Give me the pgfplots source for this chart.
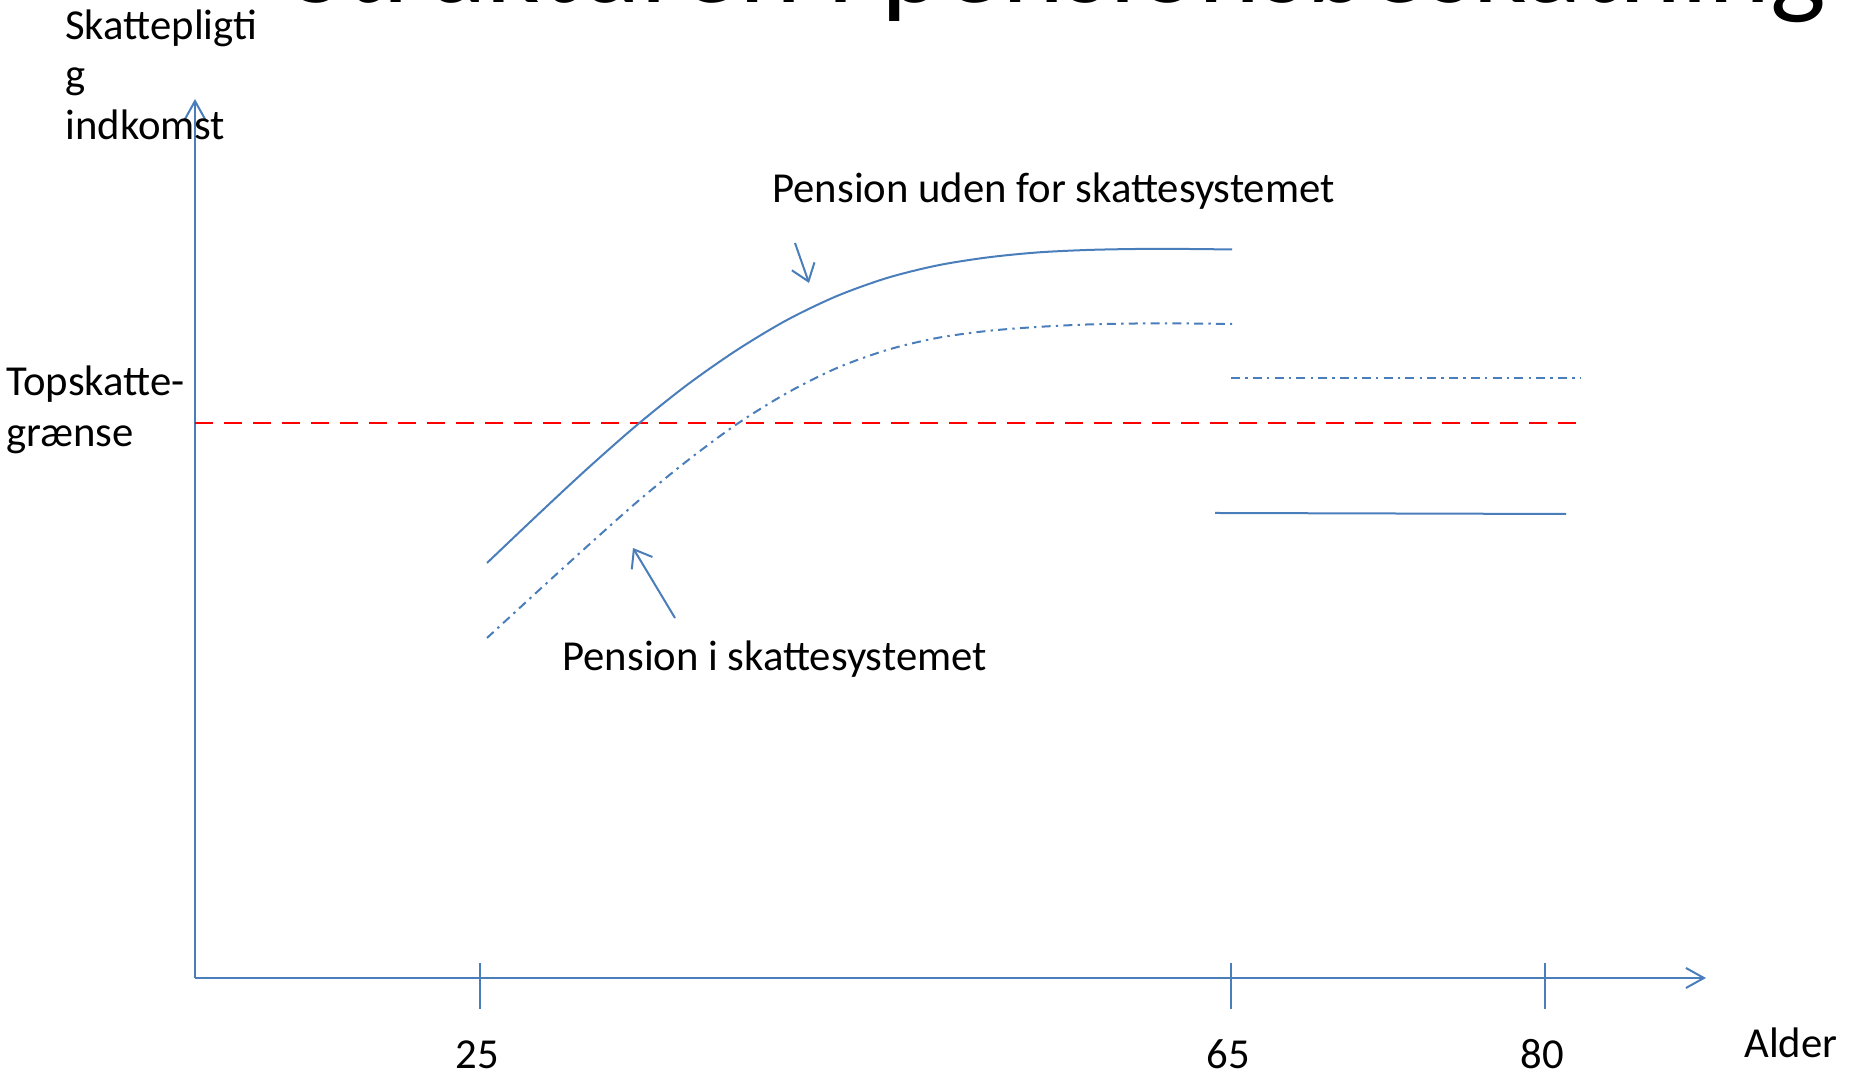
\documentclass[border=0pt]{standalone}
\usepackage{pgfplots}
\pgfplotsset{compat=1.18}
\usepackage{fontspec}
\setmainfont{Carlito}
\usetikzlibrary{arrows.meta}

\definecolor{lineblue}{HTML}{4A7EBB}
\newcommand{\lbl}{\fontsize{21.35pt}{25pt}\selectfont}

\begin{document}
\begin{tikzpicture}
\begin{axis}[
    x=0.5pt, y=0.5pt,
    xmin=195, xmax=1706,
    ymin=101, ymax=980,
    axis lines=left,
    axis line style={lineblue, line width=1pt, -{Straight Barb[length=9pt,width=10pt]}},
    clip=false,
    xtick={480,1231,1545},
    xticklabels={25,65,80},
    ytick=\empty,
    major tick length=23pt,
    tick align=center,
    xtick style={lineblue, line width=0.7pt, yshift=-4pt},
    xticklabel style={font=\lbl, anchor=base, inner sep=0pt, yshift=-34pt, xshift=-1.5pt},
    /pgf/number format/assume math mode=true,
]
% topskattegraense
\addplot[red, line width=1pt, dash pattern=on 9pt off 5.5pt] coordinates {(195,656) (1580,656)};

% pension uden for skattesystemet
\addplot[lineblue, line width=1pt, smooth] coordinates {
  (487,516) (537,563.5) (587,610) (637,654) (687,694) (737,729)
  (787,759) (837,783) (887,801) (937,813.5) (987,821.5) (1037,826.5)
  (1087,829) (1137,830) (1187,830) (1232,829.5)
};
\addplot[lineblue, line width=1pt] coordinates {(1215,566) (1566,565)};

% pension i skattesystemet
\addplot[lineblue, line width=1pt, smooth, dash pattern=on 4.5pt off 2.6pt on 1.2pt off 2.6pt] coordinates {
  (487,441) (537,487) (587,532.5) (637,577) (687,618) (737,655)
  (787,686) (837,711) (887,729) (937,741) (987,748) (1037,752)
  (1087,754.5) (1137,755.5) (1187,755.5) (1232,755)
};
\addplot[lineblue, line width=1pt, dash pattern=on 4.5pt off 2.6pt on 1.2pt off 2.6pt] coordinates {(1231,701) (1580,701)};

% pile
\addplot[lineblue, line width=1pt, -{Straight Barb[length=8pt,width=12pt]}] coordinates {(795,836) (809,796)};
\addplot[lineblue, line width=1pt, -{Straight Barb[length=8pt,width=12pt]}] coordinates {(675,461) (633,531)};

% tekster
\node[anchor=base west, inner sep=0pt, font=\fontsize{58.9pt}{60pt}\selectfont] at (axis cs:290,1076) {Strukturen i pensionsbeskatning};
\node[anchor=base west, inner sep=0pt, font=\lbl] at (axis cs:772,876) {Pension uden for skattesystemet};
\node[anchor=base west, inner sep=0pt, font=\lbl] at (axis cs:562,408) {Pension i skattesystemet};
\node[anchor=base west, inner sep=0pt, font=\lbl] at (axis cs:6,683) {Topskatte-};
\node[anchor=base west, inner sep=0pt, font=\lbl] at (axis cs:6,632) {grænse};
\node[anchor=base west, inner sep=0pt, font=\lbl] at (axis cs:65,1039) {Skattepligti};
\node[anchor=base west, inner sep=0pt, font=\lbl] at (axis cs:65,990) {g};
\node[anchor=base west, inner sep=0pt, font=\lbl] at (axis cs:65,939) {indkomst};
\node[anchor=base west, inner sep=0pt, font=\lbl] at (axis cs:1744,21) {Alder};

\coordinate (bl) at (axis cs:0,0);
\coordinate (tr) at (axis cs:1858,1079);
\end{axis}
\pgfresetboundingbox
\path[use as bounding box] (bl) rectangle (tr);
\end{tikzpicture}
\end{document}
